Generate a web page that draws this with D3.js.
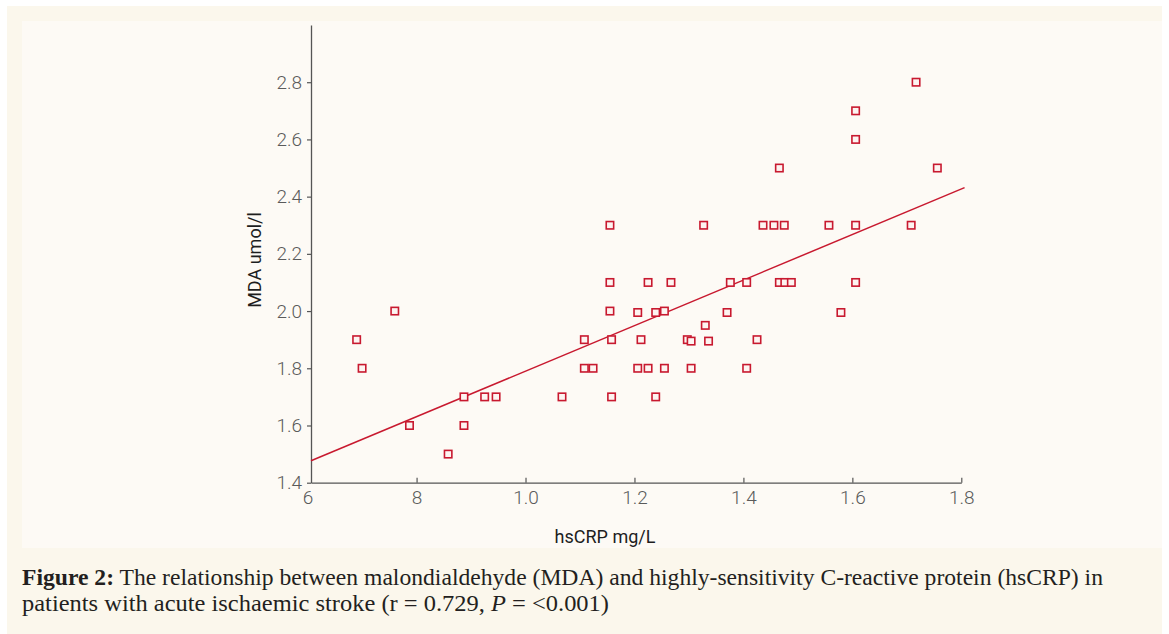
<!DOCTYPE html>
<html>
<head>
<meta charset="utf-8">
<script src="https://cdn.jsdelivr.net/npm/d3@7/dist/d3.min.js"></script>
<style>
  html, body { margin: 0; padding: 0; background: #ffffff; }
  svg { display: block; }
</style>
</head>
<body>
<svg id="chart"></svg>
<script>
// hsCRP (mg/L) and MDA (umol/l)
const hsCRP = [0.69, 0.70, 0.76, 0.787, 0.858, 0.887, 0.887, 0.925, 0.946, 1.067,
  1.108, 1.108, 1.124, 1.155, 1.155, 1.155, 1.158, 1.158, 1.206, 1.212,
  1.206, 1.225, 1.225, 1.239, 1.239, 1.255, 1.255, 1.267, 1.297, 1.304,
  1.304, 1.327, 1.33, 1.336, 1.37, 1.376, 1.406, 1.406, 1.425, 1.436,
  1.456, 1.466, 1.466, 1.475, 1.476, 1.488, 1.557, 1.579, 1.606, 1.606,
  1.606, 1.606, 1.708, 1.717, 1.756];
const mda = [1.9, 1.8, 2.0, 1.6, 1.5, 1.7, 1.6, 1.7, 1.7, 1.7,
  1.9, 1.8, 1.8, 2.3, 2.1, 2.0, 1.9, 1.7, 1.995, 1.9,
  1.8, 2.1, 1.8, 1.995, 1.7, 2.0, 1.8, 2.1, 1.9, 1.895,
  1.8, 2.3, 1.95, 1.895, 1.995, 2.1, 2.1, 1.8, 1.9, 2.3,
  2.3, 2.5, 2.1, 2.3, 2.1, 2.1, 2.3, 1.995, 2.7, 2.6,
  2.3, 2.1, 2.3, 2.8, 2.5];

// fitted line
const fitIntercept = 0.994, fitSlope = 0.796;
const fitRange = [0.6062, 1.806];

const xTicks = [0.6, 0.8, 1.0, 1.2, 1.4, 1.6, 1.8];
const xTickLabels = ['6', '8', '1.0', '1.2', '1.4', '1.6', '1.8'];
const yTicks = [1.4, 1.6, 1.8, 2.0, 2.2, 2.4, 2.6, 2.8];

const W = 1169, H = 634;
const red = '#c8192f';

const svg = d3.select('#chart').attr('width', W).attr('height', H);

// backgrounds
svg.append('rect').attr('x', 7).attr('y', 6).attr('width', 1155).attr('height', 628)
  .attr('fill', '#fbf7ec');
svg.append('rect').attr('x', 22).attr('y', 21).attr('width', 1140).attr('height', 527)
  .attr('fill', '#fdfaf5');

let x = d3.scaleLinear().domain([0.6062, 1.8]).range([311, 961.3]);
let y = d3.scaleLinear().domain([1.4, 3.0]).range([482.7, 25]);

// Y axis
let yAxis = svg.append('g')
  .attr('transform', 'translate(' + x(0.6062) + ',0)')
  .call(d3.axisLeft(y).tickValues(yTicks).tickFormat(d3.format('.1f')).tickSize(4).tickPadding(5).tickSizeOuter(0));
yAxis.select('.domain').attr('stroke', '#555').attr('stroke-width', 1.3);
yAxis.selectAll('.tick line').attr('stroke', '#555').attr('stroke-width', 1.2);
yAxis.selectAll('.tick text')
  .attr('fill', '#5a5a5a')
  .style('font-family', 'Roboto, "Liberation Sans", sans-serif')
  .style('font-weight', 300)
  .style('font-size', '19px');

// X axis (ticks point inwards)
let xAxis = svg.append('g')
  .attr('transform', 'translate(0,' + y(1.4) + ')')
  .call(d3.axisBottom(x).tickValues(xTicks).tickFormat((d, i) => xTickLabels[i]).tickSize(-5).tickPadding(8).tickSizeOuter(0));
xAxis.select('.domain').attr('stroke', '#555').attr('stroke-width', 1.3);
xAxis.selectAll('.tick line').attr('stroke', '#555').attr('stroke-width', 1.2)
  .attr('display', d => d < 0.7 ? 'none' : null);
xAxis.selectAll('.tick text')
  .attr('fill', '#5a5a5a')
  .style('font-family', 'Roboto, "Liberation Sans", sans-serif')
  .style('font-weight', 300)
  .style('font-size', '19px');

// axis titles
svg.append('text')
  .attr('x', 605).attr('y', 543)
  .attr('text-anchor', 'middle')
  .attr('fill', '#1e1e1e')
  .style('font-family', 'Roboto, "Liberation Sans", sans-serif')
  .style('font-size', '18px')
  .text('hsCRP mg/L');

svg.append('text')
  .attr('transform', 'translate(261,260) rotate(-90)')
  .attr('text-anchor', 'middle')
  .attr('fill', '#1e1e1e')
  .style('font-family', 'Roboto, "Liberation Sans", sans-serif')
  .style('font-size', '18px')
  .text('MDA umol/l');

// regression line
svg.append('path')
  .datum(fitRange)
  .attr('fill', 'none')
  .attr('stroke', red)
  .attr('stroke-width', 1.5)
  .attr('d', d3.line()
    .x(d => x(d))
    .y(d => y(fitIntercept + fitSlope * d)));

// points
const pts = hsCRP.map((v, i) => ({ x: v, y: mda[i] }));
svg.append('g').selectAll('rect')
  .data(pts)
  .enter().append('rect')
  .attr('x', d => x(d.x) - 3.7)
  .attr('y', d => y(d.y) - 3.7)
  .attr('width', 7.4)
  .attr('height', 7.4)
  .attr('fill', '#fdf4f1')
  .attr('stroke', red)
  .attr('stroke-width', 1.6);

// caption
const cap = svg.append('g')
  .attr('fill', '#231f20')
  .style('font-family', '"Liberation Serif", "DejaVu Serif", serif')
  .style('font-size', '23.5px');

let l1 = cap.append('text').attr('x', 22).attr('y', 585)
  .attr('textLength', 1081).attr('lengthAdjust', 'spacingAndGlyphs');
l1.append('tspan').style('font-weight', 'bold').text('Figure 2:');
l1.append('tspan').text(' The relationship between malondialdehyde (MDA) and highly-sensitivity C-reactive protein (hsCRP) in');

let l2 = cap.append('text').attr('x', 22).attr('y', 611)
  .attr('textLength', 587).attr('lengthAdjust', 'spacingAndGlyphs');
l2.append('tspan').text('patients with acute ischaemic stroke (r = 0.729, ');
l2.append('tspan').style('font-style', 'italic').text('P');
l2.append('tspan').text(' = <0.001)');
</script>
</body>
</html>
